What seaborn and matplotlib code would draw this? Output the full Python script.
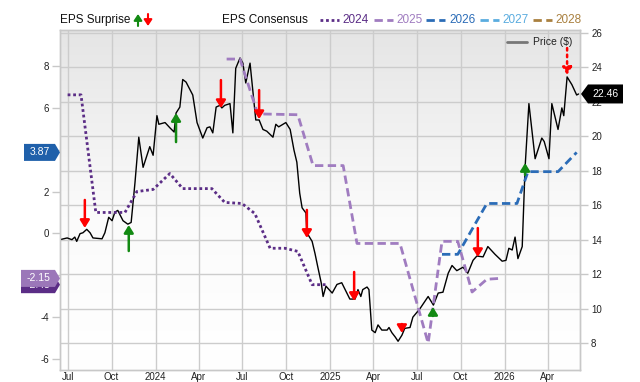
import numpy as np
import pandas as pd
import matplotlib
matplotlib.use("Agg")
import matplotlib.pyplot as plt
import matplotlib.dates as mdates
from matplotlib.patches import Polygon, FancyArrowPatch
from matplotlib.lines import Line2D
from matplotlib.colors import LinearSegmentedColormap
import seaborn as sns

# ---------------- data ----------------
price_dates = [
    "2023-06-15", "2023-06-30", "2023-07-10", "2023-07-16", "2023-07-20", "2023-07-27", "2023-08-02",
    "2023-08-10", "2023-08-17", "2023-08-23", "2023-09-11", "2023-09-17", "2023-09-25", "2023-10-02",
    "2023-10-08", "2023-10-14", "2023-10-25", "2023-11-04", "2023-11-11", "2023-11-19", "2023-11-27",
    "2023-12-06", "2023-12-20", "2023-12-27", "2024-01-04", "2024-01-08", "2024-01-21", "2024-01-31",
    "2024-02-09", "2024-02-13", "2024-02-21", "2024-02-27", "2024-03-05", "2024-03-19", "2024-03-28",
    "2024-04-09", "2024-04-18", "2024-04-24", "2024-04-30", "2024-05-07", "2024-05-15", "2024-05-19",
    "2024-05-25", "2024-06-05", "2024-06-11", "2024-06-17", "2024-06-26", "2024-07-02", "2024-07-08",
    "2024-07-17", "2024-07-23", "2024-07-29", "2024-08-05", "2024-08-13", "2024-08-21", "2024-09-03",
    "2024-09-09", "2024-09-15", "2024-09-30", "2024-10-09", "2024-10-17", "2024-10-23", "2024-10-29",
    "2024-11-03", "2024-11-11", "2024-11-13", "2024-11-24", "2024-11-30", "2024-12-06", "2024-12-13",
    "2024-12-17", "2024-12-23", "2025-01-05", "2025-01-15", "2025-01-25", "2025-02-03", "2025-02-11",
    "2025-02-22", "2025-02-28", "2025-03-06", "2025-03-10", "2025-03-19", "2025-03-23", "2025-03-29",
    "2025-04-05", "2025-04-11", "2025-04-19", "2025-04-30", "2025-05-04", "2025-05-10", "2025-05-17",
    "2025-05-23", "2025-05-31", "2025-06-06", "2025-06-17", "2025-06-23", "2025-07-02", "2025-07-08",
    "2025-07-25", "2025-08-05", "2025-08-15", "2025-08-25", "2025-09-05", "2025-09-13", "2025-09-23",
    "2025-10-06", "2025-10-16", "2025-10-27", "2025-11-04", "2025-11-17", "2025-11-27", "2025-12-12",
    "2025-12-27", "2026-01-04", "2026-01-10", "2026-01-17", "2026-01-23", "2026-01-29", "2026-02-07",
    "2026-02-13", "2026-02-21", "2026-03-06", "2026-03-20", "2026-03-25", "2026-04-04", "2026-04-10",
    "2026-04-23", "2026-05-01", "2026-05-05", "2026-05-12", "2026-05-22", "2026-06-01", "2026-06-05",
]
price_values = [
    14.0, 14.1, 14.0, 14.15, 13.9, 14.35, 14.4,
    14.6, 14.4, 14.1, 14.05, 14.4, 15.3, 15.1,
    15.6, 15.7, 15.1, 14.9, 15.0, 17.3, 19.95,
    18.2, 19.4, 18.9, 21.2, 20.7, 20.8, 20.5,
    20.25, 21.35, 21.7, 23.3, 23.15, 22.4, 20.8,
    19.9, 20.5, 20.55, 20.2, 21.7, 21.8, 21.65,
    21.8, 21.9, 20.2, 23.95, 24.55, 24.25, 23.1,
    24.25, 22.6, 20.95, 20.95, 20.4, 20.3, 19.95,
    20.7, 20.55, 20.8, 20.4, 19.2, 18.5, 16.7,
    15.85, 15.55, 14.4, 13.9, 13.2, 12.4, 11.5,
    10.7, 11.3, 10.9, 11.4, 11.5, 11.0, 10.55,
    10.55, 11.1, 10.7, 11.1, 11.25, 11.1, 8.75,
    8.6, 9.05, 8.75, 8.75, 8.9, 8.6, 8.35,
    8.1, 8.45, 8.85, 8.9, 9.5, 9.8, 10.0,
    10.7, 10.2, 10.9, 10.95, 12.05, 12.5, 12.2,
    12.4, 12.05, 12.8, 13.05, 13.0, 13.6, 13.15,
    12.75, 12.8, 13.5, 13.4, 14.15, 12.9, 13.6,
    18.2, 21.9, 18.7, 19.9, 19.7, 18.7, 21.9,
    20.4, 21.65, 21.2, 23.45, 23.0, 22.4, 22.46,
]

eps2024_dates = ["2023-07-01", "2023-07-29", "2023-08-29", "2023-10-29", "2023-11-23", "2023-12-27",
                 "2024-01-31", "2024-02-27", "2024-04-28", "2024-05-25", "2024-06-30", "2024-07-27",
                 "2024-08-28", "2024-09-28", "2024-10-25", "2024-11-24", "2024-12-25"]
eps2024_values = [6.62, 6.62, 1.0, 1.0, 2.0, 2.1, 2.86, 2.14, 2.14, 1.48, 1.43, 0.95,
                  -0.71, -0.71, -0.86, -2.45, -2.45]

eps2025_dates = ["2024-05-29", "2024-06-26", "2024-08-02", "2024-10-25", "2024-11-26", "2025-01-28",
                 "2025-02-26", "2025-05-27", "2025-07-25", "2025-08-23", "2025-09-25", "2025-10-25",
                 "2025-11-25", "2025-12-22"]
eps2025_values = [8.33, 8.33, 5.71, 5.67, 3.24, 3.24, -0.48, -0.48, -5.24, -0.38, -0.38, -2.8,
                  -2.19, -2.15]

eps2026_dates = ["2025-08-23", "2025-09-25", "2025-11-25", "2026-01-27", "2026-02-19", "2026-04-23",
                 "2026-06-01"]
eps2026_values = [-1.0, -1.0, 1.43, 1.43, 2.95, 2.95, 3.87]

surprise_dates = ["2023-08-06", "2023-11-06", "2024-02-13", "2024-05-17", "2024-08-05", "2024-11-13",
                  "2025-02-20", "2025-05-31", "2025-08-04", "2025-11-06", "2026-02-13", "2026-05-12"]
surprise_price = [14.68, 14.85, 21.35, 21.64, 21.0, 14.1, 10.44, 8.58, 10.09, 12.99, 18.45, 23.56]
surprise_dir = ["down", "up", "up", "down", "down", "down", "down", "down", "up", "down", "up", "down"]
surprise_estimate = [False] * 11 + [True]

x_tick_dates = ["2023-07-01", "2023-10-01", "2024-01-01", "2024-04-01", "2024-07-01", "2024-10-01",
                "2025-01-01", "2025-04-01", "2025-07-01", "2025-10-01", "2026-01-01", "2026-04-01"]
x_tick_labels = ["Jul", "Oct", "2024", "Apr", "Jul", "Oct", "2025", "Apr", "Jul", "Oct", "2026", "Apr"]
price_ticks = list(range(8, 27, 2))
eps_ticks = list(range(-6, 9, 2))
eps_tick_labels = ["-6", "-4", "", "0", "2", "", "6", "8"]   # 4 and -2 sit under the value tags
legend_years = ["2024", "2025", "2026", "2027", "2028"]

# ---------------- styles ----------------
arrow_len_px = [28, 26, 29, 28, 29, 28, 29, 9, 9, 29, 12, 27]
C24, C25, C26, C27, C28 = "#5b2d86", "#a07cc0", "#2b6cb7", "#5aacdf", "#a9803f"
year_colors = [C24, C25, C26, C27, C28]
year_styles = [(0, (1, 1)), (0, (3, 1.6)), (0, (3, 1.6)), (0, (3, 1.6)), (0, (3, 1.6))]

sns.set_theme(style="white")
plt.rcParams["font.family"] = ["Liberation Sans", "DejaVu Sans"]

W, H = 640, 382
L, R, B, T = 60, 580, 370, 30
fig = plt.figure(figsize=(W / 100, H / 100), dpi=100)
ax = fig.add_axes([L / W, 1 - B / H, (R - L) / W, (B - T) / H])

# background gradient
cmap = LinearSegmentedColormap.from_list("bg", [(0, "#ffffff"), (0.45, "#fbfbfb"), (1.0, "#e5e5e5")])
grad = np.linspace(0, 1, 256).reshape(-1, 1)
ax.imshow(grad, extent=(0, 1, 0, 1), transform=ax.transAxes, aspect="auto", cmap=cmap,
          origin="lower", zorder=0)

pdf = pd.DataFrame({"date": pd.to_datetime(price_dates), "price": price_values})
sns.lineplot(data=pdf, x="date", y="price", ax=ax, color="black", lw=1.0, zorder=3)

ax2 = ax.twinx()
for d, v, c, ls in [(eps2024_dates, eps2024_values, C24, year_styles[0]),
                    (eps2025_dates, eps2025_values, C25, year_styles[1]),
                    (eps2026_dates, eps2026_values, C26, year_styles[2])]:
    edf = pd.DataFrame({"date": pd.to_datetime(d), "eps": v})
    sns.lineplot(data=edf, x="date", y="eps", ax=ax2, color=c, lw=2.0, linestyle=ls)

xmin, xmax = pd.Timestamp("2023-06-15"), pd.Timestamp("2026-06-08")
ax.set_xlim(xmin, xmax)
ax.set_ylim(8 - (B - 343) / 17.22, 26 + (33 - T) / 17.22)
ax2.set_ylim(-(B - 233.4) / 20.93, (233.4 - T) / 20.93)
ax2.set_xlim(xmin, xmax)

ax.set_xticks(pd.to_datetime(x_tick_dates))
ax.set_xticklabels(x_tick_labels)
ax.set_yticks(price_ticks)
ax.set_yticklabels([str(t) for t in price_ticks])
ax.yaxis.set_ticks_position("right")
ax.yaxis.set_label_position("right")
ax2.set_yticks(eps_ticks)
ax2.set_yticklabels(eps_tick_labels)
ax2.yaxis.set_ticks_position("left")
ax2.yaxis.set_label_position("left")

ax.grid(True, color="#cccccc", lw=1.0, zorder=1)
ax.set_axisbelow(True)
ax2.grid(False)
for a in (ax, ax2):
    a.set_xlabel("")
    a.set_ylabel("")
    for s in a.spines.values():
        s.set_color("#c8c8c8")
        s.set_linewidth(1.0)
ax.tick_params(axis="x", length=0, pad=1.5, labelsize=7, labelcolor="#222222")
ax.tick_params(axis="y", length=6, width=1, color="#c8c8c8", pad=2, labelsize=7, labelcolor="#222222",
               left=False, right=True, labelleft=False, labelright=True)
ax2.tick_params(axis="y", length=6, width=1, color="#c8c8c8", pad=2, labelsize=7, labelcolor="#222222",
                left=True, right=False, labelleft=True, labelright=False)

# surprise arrows (in price coordinates, drawn above everything)
for d, p, dr, est, ln in zip(surprise_dates, surprise_price, surprise_dir, surprise_estimate, arrow_len_px):
    col = "#ff0000" if dr == "down" else "#138a13"
    off = ln if dr == "down" else -ln
    xnum = mdates.date2num(pd.Timestamp(d))
    an = ax2.annotate("", xy=(xnum, p), xycoords=ax.transData,
                      xytext=(0, off), textcoords="offset pixels",
                      arrowprops=dict(arrowstyle="-|>,head_length=0.45,head_width=0.28", color=col, lw=1.8,
                                      shrinkA=0, shrinkB=0, mutation_scale=10,
                                      linestyle=":" if est else "-"))
    an.set_zorder(6)

# price legend inside
fig.add_artist(Line2D([507 / W, 527 / W], [1 - 42 / H] * 2, transform=fig.transFigure, color="#777777", lw=2))
fig.text(533 / W, 1 - 42 / H, "Price ($)", fontsize=7.5, va="center", ha="left", color="#222222")


# value tags
def tag(axis, value, text, color, side, x_body0, x_body1, x_tip, z, h=17):
    yd = axis.transData.transform((0, value))[1]
    y = yd / (fig.dpi * fig.get_figheight())
    hh = h / 2 / H
    if side == "left":
        pts = [(x_body0, y - hh), (x_body1, y - hh), (x_tip, y), (x_body1, y + hh), (x_body0, y + hh)]
    else:
        pts = [(x_tip, y), (x_body0, y - hh), (x_body1, y - hh), (x_body1, y + hh), (x_body0, y + hh)]
    tx = (x_body0 + x_body1) / 2
    pts = [(px / W, py) for px, py in pts]
    fig.add_artist(Polygon(pts, closed=True, transform=fig.transFigure, facecolor=color, edgecolor="none",
                           zorder=z))
    fig.text(tx / W, y, text, color="white", fontsize=7.5, ha="center", va="center", zorder=z + 1)


tag(ax2, eps2024_values[-1], f"{eps2024_values[-1]:.2f}", C24, "left", 21, 55, 60, z=10)
tag(ax2, eps2025_values[-1], f"{eps2025_values[-1]:.2f}", "#9b77b9", "left", 21, 55, 60, z=12)
tag(ax2, eps2026_values[-1], f"{eps2026_values[-1]:.2f}", "#1f60aa", "left", 24, 55, 60, z=12)
tag(ax, price_values[-1], f"{price_values[-1]:.2f}", "black", "right", 588, 623, 581, z=12, h=19)

# top legend
ly = 1 - 20 / H
fig.text(60 / W, ly, "EPS Surprise", fontsize=8.5, va="center", ha="left", color="#111111")
fig.add_artist(FancyArrowPatch((138 / W, 1 - 26 / H), (138 / W, 1 - 14 / H), transform=fig.transFigure,
                               arrowstyle="-|>,head_length=0.45,head_width=0.3", mutation_scale=8,
                               color="#138a13", lw=1.5, shrinkA=0, shrinkB=0))
fig.add_artist(FancyArrowPatch((148 / W, 1 - 14 / H), (148 / W, 1 - 26 / H), transform=fig.transFigure,
                               arrowstyle="-|>,head_length=0.45,head_width=0.3", mutation_scale=8,
                               color="#ff0000", lw=1.5, shrinkA=0, shrinkB=0))
fig.text(222 / W, ly, "EPS Consensus", fontsize=8.5, va="center", ha="left", color="#111111")
sx = [320, 374, 426, 480, 533]
tx = [342, 396, 449, 502, 555]
for yr, c, ls, s, t in zip(legend_years, year_colors, year_styles, sx, tx):
    fig.add_artist(Line2D([s / W, (s + 19) / W], [ly, ly], transform=fig.transFigure, color=c, lw=2,
                          linestyle=ls))
    fig.text(t / W, ly, yr, fontsize=8.5, va="center", ha="left", color=c)

fig.savefig("out.png", dpi=100)
